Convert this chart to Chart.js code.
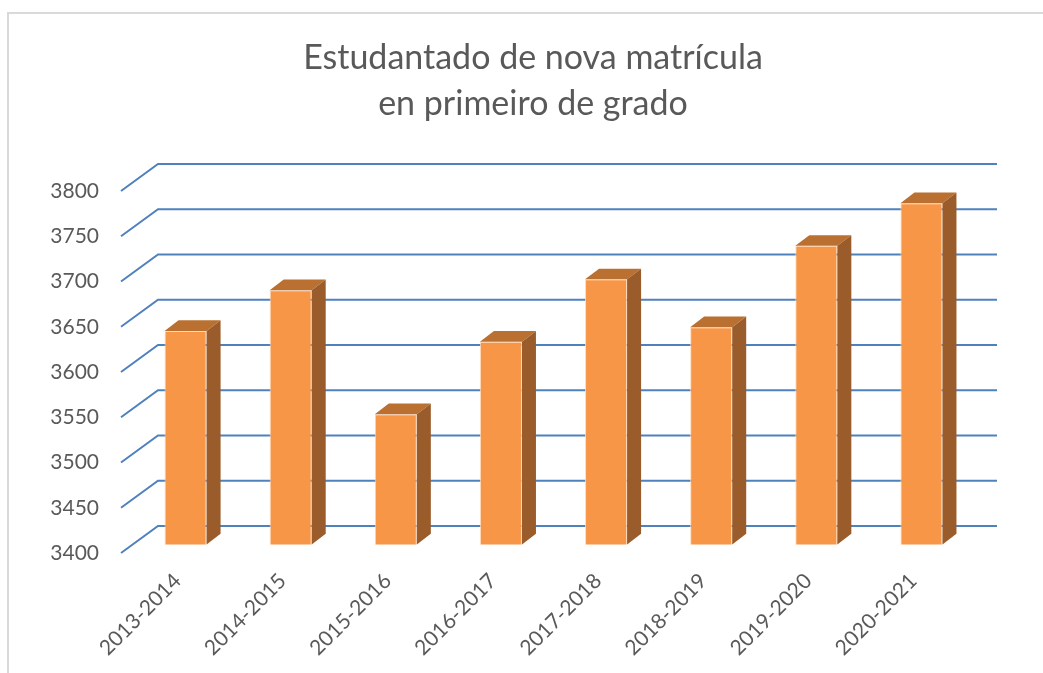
<!DOCTYPE html>
<html>
<head>
<meta charset="utf-8">
<script src="https://cdn.jsdelivr.net/npm/chart.js@4"></script>
<style>
  html, body { margin: 0; padding: 0; background: #fff; }
  #wrap { width: 1043px; height: 673px; }
</style>
</head>
<body>
<div id="wrap"><canvas id="chart" width="1043" height="673"></canvas></div>
<script>
var categories = ["2013-2014", "2014-2015", "2015-2016", "2016-2017", "2017-2018", "2018-2019", "2019-2020", "2020-2021"];
var students = [3636, 3681, 3544, 3624, 3693, 3640, 3730, 3777];
var yMin = 3400;
var yMax = 3800;
var yStep = 50;
var titleLines = ["Estudantado de nova matrícula", "en primeiro de grado"];

var textColor = "#595959";
var gridColor = "#4F81BD";
var frontColor = "#F79646";
var topColor = "#BA7031";
var sideColor = "#9A5C2A";

// fake 3d: back wall offset and bar depth
var wallFront = { dx: -12, dy: 8.5 };
var wallBack = { dx: 25, dy: -18.5 };
var barDepth = { dx: 14, dy: -10.7 };

var depthPlugin = {
    id: "depth3d",
    beforeDraw: function(chart) {
        var ctx = chart.ctx;
        ctx.save();
        ctx.strokeStyle = "#D9D9D9";
        ctx.lineWidth = 2;
        ctx.beginPath();
        ctx.moveTo(8, chart.height + 2);
        ctx.lineTo(8, 13);
        ctx.lineTo(chart.width + 2, 13);
        ctx.stroke();
        ctx.restore();
    },
    beforeDatasetsDraw: function(chart) {
        var ctx = chart.ctx;
        var area = chart.chartArea;
        var y = chart.scales.y;
        ctx.save();
        ctx.strokeStyle = gridColor;
        ctx.lineWidth = 2;
        for (var v = yMin; v <= yMax; v += yStep) {
            var py = y.getPixelForValue(v);
            ctx.beginPath();
            ctx.moveTo(area.left + wallFront.dx, py + wallFront.dy);
            ctx.lineTo(area.left + wallBack.dx, py + wallBack.dy);
            ctx.lineTo(area.right + 23, py + wallBack.dy);
            ctx.stroke();
        }
        ctx.restore();
    },
    afterDatasetsDraw: function(chart) {
        var ctx = chart.ctx;
        var meta = chart.getDatasetMeta(0);
        var base = chart.scales.y.getPixelForValue(yMin);
        ctx.save();
        meta.data.forEach(function(bar) {
            var p = bar.getProps(["x", "y", "width"], true);
            var l = p.x - p.width / 2;
            var r = p.x + p.width / 2;
            // top face
            ctx.fillStyle = topColor;
            ctx.beginPath();
            ctx.moveTo(l, p.y);
            ctx.lineTo(l + barDepth.dx, p.y + barDepth.dy);
            ctx.lineTo(r + barDepth.dx, p.y + barDepth.dy);
            ctx.lineTo(r, p.y);
            ctx.closePath();
            ctx.fill();
            // side face
            ctx.fillStyle = sideColor;
            ctx.beginPath();
            ctx.moveTo(r, p.y);
            ctx.lineTo(r + barDepth.dx, p.y + barDepth.dy);
            ctx.lineTo(r + barDepth.dx, base + barDepth.dy);
            ctx.lineTo(r, base);
            ctx.closePath();
            ctx.fill();
        });
        ctx.restore();
    }
};

var config = {
    type: "bar",
    data: {
        labels: categories,
        datasets: [{
            data: students,
            backgroundColor: frontColor,
            borderColor: "rgba(255, 214, 180, 0.9)",
            borderWidth: 1,
            barPercentage: 0.4,
            categoryPercentage: 1.0
        }]
    },
    options: {
        responsive: false,
        animation: false,
        layout: {
            padding: { left: 23, right: 0, top: 0, bottom: 0 }
        },
        plugins: {
            legend: { display: false },
            tooltip: { enabled: false },
            title: {
                display: true,
                text: titleLines,
                color: textColor,
                font: { family: "Lato", size: 34, weight: "normal", lineHeight: 1.35 },
                padding: { top: 35, bottom: 55.7 }
            }
        },
        scales: {
            x: {
                grid: { display: false, drawTicks: false },
                border: { display: false },
                ticks: {
                    color: textColor,
                    font: { family: "Lato", size: 21 },
                    minRotation: 45,
                    maxRotation: 45,
                    padding: 24,
                    labelOffset: -8
                },
                afterFit: function(s) { s.height = 128.5; }
            },
            y: {
                min: yMin,
                max: yMax,
                grid: { display: false, drawTicks: false },
                border: { display: false },
                ticks: {
                    stepSize: yStep,
                    color: textColor,
                    font: { family: "Lato", size: 21 },
                    padding: 34,
                    labelOffset: 8.5,
                    callback: function(value) { return String(value); }
                },
                afterFit: function(s) { s.width = 110; }
            },
            spacer: {
                position: "right",
                grid: { display: false, drawTicks: false },
                border: { display: false },
                ticks: { display: false },
                afterFit: function(s) { s.width = 69; }
            }
        }
    },
    plugins: [depthPlugin]
};

var ctx = document.getElementById("chart").getContext("2d");
var oneChart = new Chart(ctx, config);
</script>
</body>
</html>
